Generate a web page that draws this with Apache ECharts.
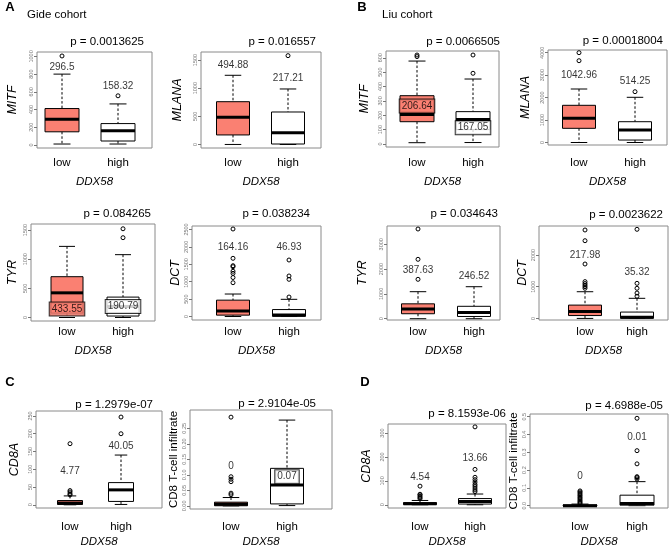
<!DOCTYPE html>
<html>
<head>
<meta charset="utf-8">
<script src="https://cdn.jsdelivr.net/npm/echarts@6/dist/echarts.min.js"></script>
<style>
  html, body { margin: 0; padding: 0; background: #fff; }
  #chart { width: 670px; height: 549px; }
</style>
</head>
<body>
<div id="chart"></div>
<script>
const groups = ['low', 'high'];
const boxFill = ['#FA8072', '#FFFFFF'];

// box stats: [min, Q1, median, Q3, max] for low, high
const gideMITF = [[10, 148, 289, 411, 800], [10, 44, 159, 241, 463]];
const gideMITFOut = [[1005], [555]];
const gideMITFLabel = ['296.5', '158.32'];
const gideMITFLabelY = [880, 667];
const gideMITFTicks = [0, 200, 400, 600, 800, 1000];

const gideMLANA = [[0, 169, 483, 760, 1229], [0, 8, 210, 577, 986]];
const gideMLANAOut = [[], [1578]];
const gideMLANALabel = ['494.88', '217.21'];
const gideMLANALabelY = [1400, 1176];
const gideMLANATicks = [0, 500, 1000, 1500];

const liuMITF = [[9, 155, 206, 336, 577], [10, 100, 170, 225, 452]];
const liuMITFOut = [[608, 619], [492, 619]];
const liuMITFLabel = ['206.64', '167.05'];
const liuMITFLabelY = [264, 113];
const liuMITFTicks = [0, 100, 200, 300, 400, 500, 600];

const liuMLANA = [[0, 632, 1078, 1657, 2383], [0, 110, 557, 926, 2013]];
const liuMLANAOut = [[3643, 4000], [2263]];
const liuMLANALabel = ['1042.96', '514.25'];
const liuMLANALabelY = [2984, 2710];
const liuMLANATicks = [0, 1000, 2000, 3000, 4000];

const gideTYR = [[0, 75, 423, 700, 1220], [0, 25, 190, 350, 1078]];
const gideTYROut = [[], [1369, 1522]];
const gideTYRLabel = ['433.55', '190.79'];
const gideTYRLabelY = [145, 190];
const gideTYRTicks = [0, 500, 1000, 1500];

const gideDCT = [[0, 40, 160, 470, 646], [0, 5, 47, 200, 494]];
const gideDCTOut = [[971, 1120, 1240, 1300, 1431, 1460, 1672, 2514], [560, 1069, 1164, 1623]];
const gideDCTLabel = ['164.16', '46.93'];
const gideDCTLabelY = [2000, 2000];
const gideDCTTicks = [0, 500, 1000, 1500, 2000, 2500];

const liuTYR = [[0, 200, 388, 600, 1089], [0, 90, 247, 500, 1290]];
const liuTYROut = [[1589, 2395, 3617], []];
const liuTYRLabel = ['387.63', '246.52'];
const liuTYRLabelY = [1935, 1722];
const liuTYRTicks = [0, 1000, 2000, 3000];

const liuDCT = [[0, 90, 218, 420, 842], [0, 5, 35, 200, 634]];
const liuDCTOut = [[950, 1000, 1050, 1100, 1160, 1716, 2451, 2789], [700, 800, 950, 1107, 2811]];
const liuDCTLabel = ['217.98', '35.32'];
const liuDCTLabelY = [2000, 1442];
const liuDCTTicks = [0, 1000, 2000];

const gideCD8A = [[0, 1, 4.8, 12, 25], [1, 9.5, 42, 62.5, 140]];
const gideCD8AOut = [[28, 31, 36, 40, 172], [200, 247]];
const gideCD8ALabel = ['4.77', '40.05'];
const gideCD8ALabelY = [95, 165];
const gideCD8ATicks = [0, 50, 100, 150, 200, 250];

const gideTcell = [[0, 0.0005, 0.005, 0.012, 0.027], [0.001, 0.0064, 0.0675, 0.121, 0.2765]];
const gideTcellOut = [[0.036, 0.041, 0.078, 0.086, 0.094, 0.286], []];
const gideTcellLabel = ['0', '0.07'];
const gideTcellLabelY = [0.129, 0.094];
const gideTcellTicks = [0, 0.05, 0.1, 0.15, 0.2, 0.25];

const liuCD8A = [[0, 1, 4.5, 9, 18], [0, 3, 13.7, 26, 45]];
const liuCD8AOut = [[25, 30, 35, 41, 44, 78], [55, 62, 70, 78, 85, 95, 105, 115, 148, 326]];
const liuCD8ALabel = ['4.54', '13.66'];
const liuCD8ALabelY = [116, 194];
const liuCD8ATicks = [0, 100, 200, 300];

const liuTcell = [[0, 0, 0, 0.004, 0.009], [0, 0.003, 0.012, 0.059, 0.135]];
const liuTcellOut = [[0.012, 0.018, 0.025, 0.032, 0.04, 0.047, 0.055, 0.062, 0.07, 0.077, 0.083], [0.15, 0.158, 0.163, 0.235, 0.309, 0.491]];
const liuTcellLabel = ['0', '0.01'];
const liuTcellLabelY = [0.163, 0.385];
const liuTcellTicks = [0, 0.1, 0.2, 0.3, 0.4, 0.5];

const FONT = 'Liberation Sans, Arial, Helvetica, sans-serif';

const panels = [
  { stats: gideMITF, out: gideMITFOut, label: gideMITFLabel, labelY: gideMITFLabelY, ticks: gideMITFTicks, boxed: [false, false],
    gene: 'MITF', p: 'p = 0.0013625', y: [-35, 1050], frame: [37, 52, 152, 148], centers: [62, 118], boxW: 34, nameX: 12.7, pEnd: 144, pY: 42, lowY: 163, ddxY: 182 },
  { stats: gideMLANA, out: gideMLANAOut, label: gideMLANALabel, labelY: gideMLANALabelY, ticks: gideMLANATicks, boxed: [false, false],
    gene: 'MLANA', p: 'p = 0.016557', y: [-63, 1643], frame: [201, 52, 321, 148], centers: [233, 288], boxW: 33, nameX: 178, pEnd: 316, pY: 42, lowY: 163, ddxY: 182 },
  { stats: liuMITF, out: liuMITFOut, label: liuMITFLabel, labelY: liuMITFLabelY, ticks: liuMITFTicks, boxed: [true, true],
    gene: 'MITF', p: 'p = 0.0066505', y: [-21, 647], frame: [386, 51, 499, 147], centers: [417, 473], boxW: 34, nameX: 365, pEnd: 500, pY: 42, lowY: 163, ddxY: 182 },
  { stats: liuMLANA, out: liuMLANAOut, label: liuMLANALabel, labelY: liuMLANALabelY, ticks: liuMLANATicks, boxed: [false, false],
    gene: 'MLANA', p: 'p = 0.00018004', y: [-111, 4120], frame: [548, 50, 667, 145], centers: [579, 635], boxW: 33, nameX: 526, pEnd: 663, pY: 41, lowY: 163, ddxY: 182 },
  { stats: gideTYR, out: gideTYROut, label: gideTYRLabel, labelY: gideTYRLabelY, ticks: gideTYRTicks, boxed: [true, true],
    gene: 'TYR', p: 'p = 0.084265', y: [-60, 1604], frame: [31, 224, 155, 321], centers: [67, 123], boxW: 32, nameX: 13, pEnd: 151, pY: 214, lowY: 332, ddxY: 351 },
  { stats: gideDCT, out: gideDCTOut, label: gideDCTLabel, labelY: gideDCTLabelY, ticks: gideDCTTicks, boxed: [false, false],
    gene: 'DCT', p: 'p = 0.038234', y: [-100, 2600], frame: [192, 226, 321, 320], centers: [233, 289], boxW: 33, nameX: 178, pEnd: 310, pY: 214, lowY: 332, ddxY: 351 },
  { stats: liuTYR, out: liuTYROut, label: liuTYRLabel, labelY: liuTYRLabelY, ticks: liuTYRTicks, boxed: [false, false],
    gene: 'TYR', p: 'p = 0.034643', y: [-52, 3738], frame: [387, 226, 500, 320], centers: [418, 474], boxW: 33, nameX: 363, pEnd: 498, pY: 214, lowY: 332, ddxY: 351 },
  { stats: liuDCT, out: liuDCTOut, label: liuDCTLabel, labelY: liuDCTLabelY, ticks: liuDCTTicks, boxed: [false, false],
    gene: 'DCT', p: 'p = 0.0023622', y: [-50, 2915], frame: [539, 226, 668, 320], centers: [585, 637], boxW: 33, nameX: 524, pEnd: 663, pY: 215, lowY: 332, ddxY: 351 },
  { stats: gideCD8A, out: gideCD8AOut, label: gideCD8ALabel, labelY: gideCD8ALabelY, ticks: gideCD8ATicks, boxed: [false, false],
    gene: 'CD8A', p: 'p = 1.2979e-07', y: [-9, 264], frame: [36, 411, 162, 509], centers: [70, 121], boxW: 25, nameX: 15, pEnd: 153, pY: 405, lowY: 528, ddxY: 543 },
  { stats: gideTcell, out: gideTcellOut, label: gideTcellLabel, labelY: gideTcellLabelY, ticks: gideTcellTicks, boxed: [false, true], digits: 2, plain: true,
    gene: 'CD8 T-cell infiltrate', p: 'p = 2.9104e-05', y: [-0.01, 0.309], frame: [190, 410, 332, 509], centers: [231, 287], boxW: 33, nameX: 175, pEnd: 316, pY: 404, lowY: 527, ddxY: 542 },
  { stats: liuCD8A, out: liuCD8AOut, label: liuCD8ALabel, labelY: liuCD8ALabelY, ticks: liuCD8ATicks, boxed: [false, false],
    gene: 'CD8A', p: 'p = 8.1593e-06', y: [-13.5, 338], frame: [388, 424, 506, 510], centers: [420, 475], boxW: 33, nameX: 367, pEnd: 506, pY: 414, lowY: 529, ddxY: 544 },
  { stats: liuTcell, out: liuTcellOut, label: liuTcellLabel, labelY: liuTcellLabelY, ticks: liuTcellTicks, boxed: [false, false], digits: 1, plain: true,
    gene: 'CD8 T-cell infiltrate', p: 'p = 4.6988e-05', y: [-0.013, 0.515], frame: [530, 414, 668, 509], centers: [580, 637], boxW: 34, nameX: 523, pEnd: 663, pY: 406, lowY: 528, ddxY: 543 }
];

function makeBox(w) {
  return function (params, api) {
    const x = api.value(0);
    const pt = [1, 2, 3, 4, 5].map(function (d) { return api.coord([x, api.value(d)]); });
    const cx = pt[0][0];
    const half = w / 2, cap = w / 4;
    const dash = { stroke: '#000', lineWidth: 1, lineDash: [2.5, 2] };
    const solid = { stroke: '#000', lineWidth: 1 };
    return {
      type: 'group',
      children: [
        { type: 'line', shape: { x1: cx, y1: pt[4][1], x2: cx, y2: pt[3][1] }, style: dash },
        { type: 'line', shape: { x1: cx, y1: pt[1][1], x2: cx, y2: pt[0][1] }, style: dash },
        { type: 'line', shape: { x1: cx - cap, y1: pt[4][1], x2: cx + cap, y2: pt[4][1] }, style: solid },
        { type: 'line', shape: { x1: cx - cap, y1: pt[0][1], x2: cx + cap, y2: pt[0][1] }, style: solid },
        { type: 'rect', shape: { x: cx - half, y: pt[3][1], width: w, height: pt[1][1] - pt[3][1] },
          style: { fill: boxFill[params.dataIndex], stroke: '#000', lineWidth: 1 } },
        { type: 'line', shape: { x1: cx - half, y1: pt[2][1], x2: cx + half, y2: pt[2][1] }, style: { stroke: '#000', lineWidth: 3 } }
      ]
    };
  };
}

const grid = [], xAxis = [], yAxis = [], series = [];
const graphic = [
  { type: 'text', x: 10, y: 7, style: { text: 'A', font: 'bold 13px ' + FONT, fill: '#000', textAlign: 'center', textVerticalAlign: 'middle' } },
  { type: 'text', x: 27, y: 15, style: { text: 'Gide cohort', font: '11.5px ' + FONT, fill: '#000', textAlign: 'left', textVerticalAlign: 'middle' } },
  { type: 'text', x: 362, y: 7, style: { text: 'B', font: 'bold 13px ' + FONT, fill: '#000', textAlign: 'center', textVerticalAlign: 'middle' } },
  { type: 'text', x: 382, y: 15, style: { text: 'Liu cohort', font: '11.5px ' + FONT, fill: '#000', textAlign: 'left', textVerticalAlign: 'middle' } },
  { type: 'text', x: 10, y: 382, style: { text: 'C', font: 'bold 13px ' + FONT, fill: '#000', textAlign: 'center', textVerticalAlign: 'middle' } },
  { type: 'text', x: 365, y: 382, style: { text: 'D', font: 'bold 13px ' + FONT, fill: '#000', textAlign: 'center', textVerticalAlign: 'middle' } }
];

panels.forEach(function (p, i) {
  const f = p.frame;
  const k = p.centers[1] - p.centers[0];
  const xMin = 1 - (p.centers[0] - f[0]) / k;
  const xMax = xMin + (f[2] - f[0]) / k;

  grid.push({ left: f[0], top: f[1], width: f[2] - f[0], height: f[3] - f[1], show: true, borderColor: '#8a8a8a', borderWidth: 1 });

  xAxis.push({
    type: 'value', gridIndex: i, min: xMin, max: xMax,
    axisLine: { show: false }, axisTick: { show: false }, splitLine: { show: false },
    axisLabel: { customValues: [1, 2], formatter: function (v) { return groups[Math.round(v) - 1]; },
      fontSize: 11.5, fontFamily: FONT, color: '#000', margin: p.lowY - f[3] - 6 },
    name: 'DDX58', nameLocation: 'middle', nameGap: p.ddxY - f[3] - 6,
    nameTextStyle: { fontStyle: 'italic', fontSize: 11.5, fontFamily: FONT, color: '#000' }
  });

  yAxis.push({
    type: 'value', gridIndex: i, min: p.y[0], max: p.y[1],
    axisLine: { show: false }, splitLine: { show: false },
    axisTick: { show: true, customValues: p.ticks, length: 3, lineStyle: { color: '#777' } },
    axisLabel: { customValues: p.ticks, rotate: 90, fontSize: 5.5, fontFamily: FONT, color: '#777', margin: 3,
      formatter: function (v) { return p.digits ? v.toFixed(p.digits) : String(v); } },
    name: p.gene, nameLocation: 'middle', nameGap: f[0] - p.nameX - 6.5,
    nameTextStyle: { fontStyle: p.plain ? 'normal' : 'italic', fontSize: p.plain ? 11.5 : 12.5, fontFamily: FONT, color: '#000' }
  });

  series.push({
    type: 'custom', xAxisIndex: i, yAxisIndex: i, z: 2, silent: true,
    renderItem: makeBox(p.boxW),
    encode: { x: 0, y: [1, 2, 3, 4, 5] },
    data: p.stats.map(function (s, j) { return [j + 1].concat(s); })
  });

  const outData = [];
  p.out.forEach(function (arr, j) { arr.forEach(function (v) { outData.push([j + 1, v]); }); });
  series.push({
    type: 'scatter', xAxisIndex: i, yAxisIndex: i, z: 3, silent: true,
    symbol: 'circle', symbolSize: 4,
    itemStyle: { color: 'rgba(0,0,0,0)', borderColor: '#000', borderWidth: 1, opacity: 1 },
    data: outData
  });

  series.push({
    type: 'scatter', xAxisIndex: i, yAxisIndex: i, z: 4, silent: true, symbolSize: 0,
    data: p.label.map(function (t, j) {
      const lab = { show: true, position: 'inside', formatter: t, fontSize: 10, fontFamily: FONT, color: '#000' };
      if (p.boxed[j]) {
        lab.backgroundColor = boxFill[j];
        lab.borderColor = '#000';
        lab.borderWidth = 1;
        lab.padding = [2, 2, 1, 2];
      }
      return { value: [j + 1, p.labelY[j]], label: lab };
    })
  });

  graphic.push({ type: 'text', x: p.pEnd, y: p.pY,
    style: { text: p.p, font: '11.5px ' + FONT, fill: '#000', textAlign: 'right', textVerticalAlign: 'middle' } });
});

const chart = echarts.init(document.getElementById('chart'), null, { renderer: 'canvas' });
chart.setOption({
  animation: false,
  backgroundColor: '#fff',
  grid: grid,
  xAxis: xAxis,
  yAxis: yAxis,
  series: series,
  graphic: graphic
});
</script>
</body>
</html>
